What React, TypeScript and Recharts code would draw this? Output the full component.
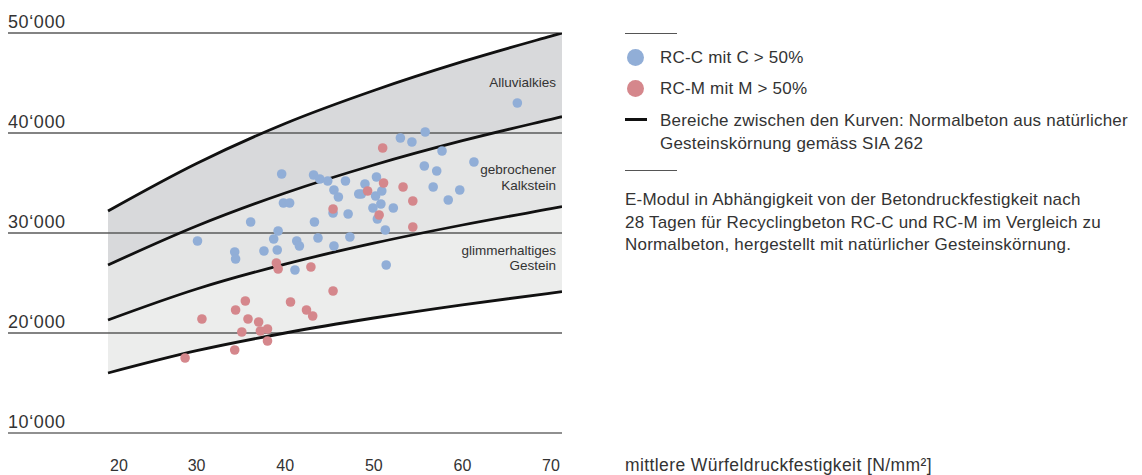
import React from 'react';
import { ComposedChart, Area, Line, Scatter, XAxis, YAxis, ReferenceLine } from 'recharts';

// Curve support points (x = mittlere Würfeldruckfestigkeit, y = E-Modul)
const curveX = [20, 30, 40, 50, 60, 70, 71.24];
const alluvialkies = [32200, 36950, 40950, 44250, 47130, 49690, 50000];
const kalkstein = [26800, 30700, 34000, 36800, 39230, 41370, 41630];
const glimmer = [21300, 24400, 26890, 28980, 30800, 32430, 32630];
const untergrenze = [16000, 18230, 20000, 21500, 22820, 23990, 24130];

// Measurements
const rcC: [number, number][] = [
  [30.1, 29200], [34.3, 28100], [34.4, 27400], [36.1, 31100], [37.6, 28200],
  [38.7, 29400], [39.2, 30200], [39.1, 28300], [39.6, 35900], [39.8, 33000],
  [40.5, 33000], [41.1, 26300], [41.3, 29200], [41.6, 28700], [43.2, 35800],
  [43.3, 31100], [43.7, 29500], [43.9, 35400], [44.8, 35200], [45.5, 34300],
  [46.0, 33600], [45.4, 32000], [45.5, 28700], [46.8, 35200], [47.1, 31900],
  [47.3, 29600], [48.3, 33900], [48.6, 33900], [49.0, 34900], [49.9, 32500],
  [50.2, 33700], [50.3, 35600], [50.4, 31400], [50.8, 32900], [50.9, 34200],
  [51.3, 30300], [51.4, 26800], [52.2, 32500], [53.0, 39500], [54.3, 39100],
  [55.8, 40100], [55.7, 36700], [56.7, 34600], [57.1, 36200], [57.7, 38200],
  [58.4, 33300], [59.7, 34300], [61.3, 37100], [66.2, 43000],
];
const rcM: [number, number][] = [
  [28.7, 17500], [30.6, 21400], [34.3, 18300], [34.4, 22300], [35.1, 20100],
  [35.5, 23200], [35.8, 21400], [37.0, 21100], [37.2, 20200], [38.0, 20400],
  [38.0, 19200], [39.0, 27000], [39.2, 26400], [40.6, 23100], [42.4, 22300],
  [42.9, 26600], [43.1, 21700], [45.4, 32400], [45.4, 24200], [49.3, 34200],
  [50.6, 31800], [51.0, 38500], [51.1, 35000], [53.3, 34600], [54.4, 33200],
  [54.4, 30600],
];

const xTicks = [20, 30, 40, 50, 60, 70];
const yTicks = [10000, 20000, 30000, 40000, 50000];

const FONT = '"Liberation Sans", Arial, Helvetica, sans-serif';
const TEXT = '#333';
const BLUE = '#91aed7';
const RED = '#d5878c';

const curveData = curveX.map((x, i) => ({
  x,
  top: alluvialkies[i],
  mid: kalkstein[i],
  low: glimmer[i],
  bottom: untergrenze[i],
  band1: [kalkstein[i], alluvialkies[i]],
  band2: [glimmer[i], kalkstein[i]],
  band3: [untergrenze[i], glimmer[i]],
}));
const rcCData = rcC.map(([x, y]) => ({ x, y }));
const rcMData = rcM.map(([x, y]) => ({ x, y }));

const fmtY = (v: number) => `${v / 1000}‘000`;

const YTick = (props: any) => {
  const { y, payload } = props;
  return (
    <text x={0} y={y - 5} fill={TEXT} fontSize={18} letterSpacing={0.6} fontFamily={FONT} textAnchor="start">
      {fmtY(payload.value)}
    </text>
  );
};

const XTick = (props: any) => {
  const { x, y, payload } = props;
  const dx = payload.value === 20 ? 11 : 0;
  return (
    <text x={x + dx} y={y + 38} fill={TEXT} fontSize={16} fontFamily={FONT} textAnchor="middle">
      {payload.value}
    </text>
  );
};

const dot = (color: string) => (p: any) => <circle cx={p.cx} cy={p.cy} r={4.8} fill={color} />;

const abs = (style: React.CSSProperties): React.CSSProperties => ({ position: 'absolute', ...style });
const legendText: React.CSSProperties = { fontSize: 17, letterSpacing: 0.2, whiteSpace: 'nowrap' };

export default function App() {
  return (
    <div style={{ position: 'relative', width: 1126, height: 467, fontFamily: FONT, color: TEXT }}>
      <ComposedChart
        width={1126}
        height={467}
        data={curveData}
        margin={{ top: 25, right: 572, bottom: 0, left: 0 }}
      >
        <XAxis
          type="number"
          dataKey="x"
          domain={[8.712, 71.24]}
          allowDataOverflow
          ticks={xTicks}
          height={42}
          axisLine={false}
          tickLine={false}
          tickSize={0}
          tickMargin={0}
          tick={<XTick />}
        />
        <YAxis
          type="number"
          domain={[10000, 50000]}
          allowDataOverflow
          ticks={yTicks}
          width={60}
          mirror
          axisLine={false}
          tickLine={false}
          tickSize={0}
          tickMargin={0}
          tick={<YTick />}
        />
        <Area dataKey="band1" type="monotone" fill="#d8d9db" fillOpacity={1} stroke="none" isAnimationActive={false} />
        <Area dataKey="band2" type="monotone" fill="#e4e5e5" fillOpacity={1} stroke="none" isAnimationActive={false} />
        <Area dataKey="band3" type="monotone" fill="#ecedec" fillOpacity={1} stroke="none" isAnimationActive={false} />
        {yTicks.map((v) => (
          <ReferenceLine key={v} y={v} stroke={v === 10000 ? '#222' : '#5a5a5a'} strokeWidth={v === 10000 ? 1.2 : 1.5} />
        ))}
        <Line dataKey="top" type="monotone" stroke="#111" strokeWidth={2.8} dot={false} isAnimationActive={false} />
        <Line dataKey="mid" type="monotone" stroke="#111" strokeWidth={2.8} dot={false} isAnimationActive={false} />
        <Line dataKey="low" type="monotone" stroke="#111" strokeWidth={2.8} dot={false} isAnimationActive={false} />
        <Line dataKey="bottom" type="monotone" stroke="#111" strokeWidth={2.8} dot={false} isAnimationActive={false} />
        <Scatter data={rcCData} dataKey="y" shape={dot(BLUE)} isAnimationActive={false} />
        <Scatter data={rcMData} dataKey="y" shape={dot(RED)} isAnimationActive={false} />
      </ComposedChart>

      {/* band labels */}
      <div style={abs({ right: 578, top: 66, fontSize: 13.5, lineHeight: '17px', textAlign: 'right' })}>Alluvialkies</div>
      <div style={abs({ right: 578, top: 154, fontSize: 13.5, lineHeight: '16px', textAlign: 'right' })}>
        gebrochener<br />Kalkstein
      </div>
      <div style={abs({ right: 578, top: 235, fontSize: 13.5, lineHeight: '15px', textAlign: 'right' })}>
        glimmerhaltiges<br />Gestein
      </div>

      {/* legend */}
      <div style={abs({ left: 617, top: 24.5, width: 52, height: 1, background: '#555' })} />
      <div style={abs({ left: 618.5, top: 40.5, width: 17, height: 17, borderRadius: '50%', background: BLUE })} />
      <div style={abs({ left: 652, top: 38.5, lineHeight: '21px', ...legendText })}>RC-C mit C &gt; 50%</div>
      <div style={abs({ left: 618.5, top: 72, width: 17, height: 17, borderRadius: '50%', background: RED })} />
      <div style={abs({ left: 652, top: 70, lineHeight: '21px', ...legendText })}>RC-M mit M &gt; 50%</div>
      <div style={abs({ left: 617, top: 110, width: 22, height: 2.6, background: '#111' })} />
      <div style={abs({ left: 652, top: 100.5, lineHeight: '23px', ...legendText })}>
        Bereiche zwischen den Kurven: Normalbeton aus natürlicher<br />Gesteinskörnung gemäss SIA 262
      </div>
      <div style={abs({ left: 617, top: 161.5, width: 52, height: 1, background: '#555' })} />
      <div style={abs({ left: 617, top: 181, lineHeight: '22.5px', ...legendText })}>
        E-Modul in Abhängigkeit von der Betondruckfestigkeit nach<br />
        28 Tagen für Recyclingbeton RC-C und RC-M im Vergleich zu<br />
        Normalbeton, hergestellt mit natürlicher Gesteinskörnung.
      </div>

      {/* x axis title */}
      <div style={abs({ left: 617, top: 446, fontSize: 17.5, letterSpacing: 0.4, lineHeight: '22px', whiteSpace: 'nowrap' })}>
        mittlere Würfeldruckfestigkeit [N/mm²]
      </div>
    </div>
  );
}
